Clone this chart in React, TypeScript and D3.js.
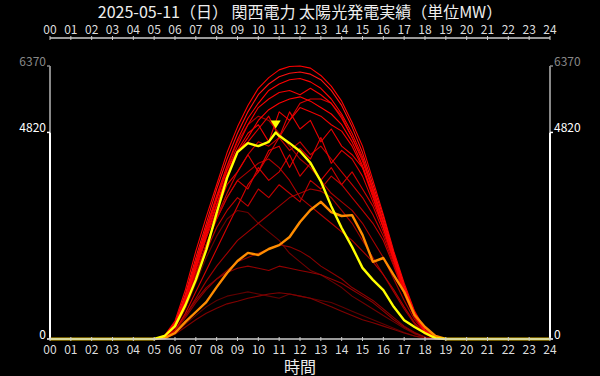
import React from "react";
import * as d3 from "d3";

const TITLE = "2025-05-11（日） 関西電力 太陽光発電実績（単位MW）";
const X_LABEL = "時間";
const HOUR_TICKS = ["00","01","02","03","04","05","06","07","08","09","10","11","12","13","14","15","16","17","18","19","20","21","22","23","24"];
const Y_TICKS = [0, 4820, 6370];
const Y_MAX = 6370;

// shared half-hour grid 05:00 .. 19:00
const gridHours = [5,5.5,6,6.5,7,7.5,8,8.5,9,9.5,10,10.5,11,11.5,12,12.5,13,13.5,14,14.5,15,15.5,16,16.5,17,17.5,18,18.5,19];

// past days (MW) on the grid
const past01 = [0,80,420,1150,2050,2850,3600,4350,4950,5450,5850,6100,6280,6360,6370,6320,6150,5900,5550,5050,4500,3700,2900,2050,1300,650,220,40,0];
const past02 = [0,70,380,1050,1900,2700,3500,4200,4800,5300,5700,5950,6120,6200,6230,6180,6050,5800,5450,4950,4350,3600,2850,2000,1250,620,200,30,0];
const past03 = [0,60,350,980,1800,2600,3350,4050,4650,5150,5500,5800,5950,6050,6080,6000,5850,5600,5250,4800,4250,3500,2750,1950,1200,600,190,30,0];
const past04 = [0,60,330,950,1750,2500,3250,3950,4500,5000,5400,5600,5750,5800,5700,5850,5700,5500,5150,4700,4150,3450,2700,1900,1150,560,180,25,0];
const past05 = [0,50,300,880,1650,2400,3100,3800,4350,4700,5100,5350,5500,5600,5650,5550,5400,5250,5000,4600,4050,3350,2600,1850,1100,540,170,25,0];
const past06 = [0,60,340,950,1750,2550,3300,3950,4400,4600,4900,5200,4700,5300,4900,5100,4600,4900,4500,4300,4000,3400,2700,1900,1150,560,180,25,0];
const past07 = [0,50,300,850,1600,2350,3000,3600,3900,4300,3900,4400,4500,4000,4450,4200,4700,4100,4400,4200,3800,3200,2600,1850,1100,540,170,25,0];
const past08 = [0,40,280,800,1500,2200,2800,3300,3700,3500,4000,3700,3900,4300,3800,4100,3700,4000,3600,3900,3500,3100,2500,1800,1100,520,160,20,0];
const past09 = [0,30,200,600,1100,1600,2100,2600,3100,3600,3900,4300,4700,5100,5500,5600,5600,5500,5200,4700,4200,3500,2750,1950,1200,580,180,25,0];
const past10 = [0,60,350,980,1800,2600,3300,4000,4600,5000,5200,5100,4800,4500,4200,4000,3700,3400,3200,3000,2700,2300,1900,1400,900,450,140,20,0];
const past11 = [0,40,250,700,1300,1900,2400,2800,3000,2950,2700,2500,2300,2000,1800,1600,1500,1350,1200,1000,850,700,550,400,250,120,40,5,0];
const past12 = [0,30,200,550,900,1200,1400,1550,1650,1700,1650,1600,1700,1650,1600,1550,1500,1400,1300,1150,1000,850,650,450,280,140,40,5,0];
const past13 = [0,20,120,350,550,750,900,1000,1050,1100,1050,1000,950,1050,1000,950,900,850,750,650,550,450,350,250,150,70,20,0,0];
const past14 = [0,30,200,550,950,1350,1700,2000,2300,2500,2700,2900,3100,3300,3400,3500,3450,3300,3000,2700,2300,1900,1500,1100,700,350,110,15,0];
const past15 = [0,30,180,500,850,1150,1400,1600,1800,1900,2000,2100,2200,2150,2050,1900,1700,1550,1400,1200,1050,900,700,500,300,150,45,5,0];
const past16 = [0,20,110,280,450,600,720,820,880,950,1000,1050,1080,1050,1000,950,850,750,650,550,450,380,300,220,140,70,20,0,0];
const past17 = [0,40,260,750,1400,2050,2600,3000,3300,3100,3500,3300,3600,3400,3200,3700,3500,3800,3600,3300,3000,2700,2300,1700,1050,500,160,20,0];
const past18 = [0,55,320,920,1700,2450,3150,3850,4400,4800,5000,4600,5300,5100,5400,5300,5200,5000,4850,4500,4000,3300,2600,1850,1100,540,170,25,0];
const past19 = [0,50,300,850,1550,2200,2800,3300,3700,3900,4100,4200,4000,3700,3300,3100,2900,2700,2500,2300,2050,1800,1500,1150,750,380,120,15,0];
const past20 = [0,45,280,800,1500,2200,2850,3400,3900,4300,4600,4500,4700,4400,4600,4300,4500,4200,3900,3600,3300,2900,2400,1750,1080,520,165,22,0];

const pastSeries = [past11, past13, past16, past12, past15, past14, past19, past17, past10, past08, past20, past07, past09, past06, past18, past05, past04, past03, past02, past01];
const pastColors = ["#700000","#600000","#800000","#900000","#8a0000","#a00000","#b00000","#c00000","#a80000","#d00000","#c80000","#e00000","#d80000","#e80000","#f00000","#ff0000","#f40000","#ff0000","#ff1010","#ff0000"];

// yesterday (orange) on the grid
const yesterday = [0,20,140,400,630,860,1210,1540,1820,2010,1960,2100,2190,2380,2730,3010,3200,2960,2870,2890,2430,1800,1890,1490,1100,560,280,70,0];

// today (yellow), with its own times
const todayHours = [5,5.5,6,6.5,7,7.5,8,8.5,9,9.5,10,10.5,10.8333,11,11.5,12,12.5,13,13.5,14,14.5,15,15.5,16,16.5,17,17.5,18,18.5,19];
const todayValues = [0,70,300,790,1380,2080,2940,3760,4360,4570,4500,4600,4820,4740,4570,4380,4110,3680,3100,2590,2150,1660,1380,1140,750,440,280,140,20,0];

const W = 600, H = 376;
const FONT = "'Noto Sans CJK JP', 'Noto Sans', sans-serif";

export default function App() {
  const x = d3.scaleLinear().domain([0, 24]).range([50, 550]);
  const y = d3.scaleLinear().domain([0, Y_MAX]).range([339, 66]);

  const line = d3.line<[number, number]>().x(d => x(d[0])).y(d => y(d[1]));
  const withEnds = (hrs: number[], vals: number[]) => {
    const pts: [number, number][] = [[0, 0]];
    hrs.forEach((h, i) => pts.push([h, vals[i]]));
    pts.push([24, 0]);
    return pts;
  };

  const todayMaxIdx = d3.maxIndex(todayValues);
  const mx = x(todayHours[todayMaxIdx]);
  const my = y(todayValues[todayMaxIdx]);

  const hours = d3.range(0, 25);

  return (
    <svg width={W} height={H} style={{ position: "absolute", left: 0, top: 0, display: "block" }} fontFamily={FONT}>
      <rect x={0} y={0} width={W} height={H} fill="#000" />
      <text x={300} y={18} textAnchor="middle" fill="#eee" fontSize={16}>{TITLE}</text>

      {/* top axis */}
      <line x1={x(0)} x2={x(24)} y1={38} y2={38} stroke="#ccc" strokeWidth={1.5} />
      {hours.map(h => (
        <g key={"t" + h}>
          <line x1={x(h)} x2={x(h)} y1={36} y2={40} stroke="#ccc" strokeWidth={1} />
          <text x={x(h)} y={34} textAnchor="middle" fill="#ddd" fontSize={12}>{HOUR_TICKS[h]}</text>
        </g>
      ))}

      {/* lines */}
      {pastSeries.map((s, i) => (
        <path key={"p" + i} d={line(withEnds(gridHours, s)) || ""} fill="none" stroke={pastColors[i]} strokeWidth={1.1} strokeLinejoin="round" />
      ))}
      <path d={line(withEnds(gridHours, yesterday)) || ""} fill="none" stroke="#ff8c00" strokeWidth={2.4} strokeLinejoin="round" />
      <path d={line(withEnds(todayHours, todayValues)) || ""} fill="none" stroke="#ffff00" strokeWidth={2.4} strokeLinejoin="round" />
      <path d={`M${mx - 5},${my - 12} L${mx + 5},${my - 12} L${mx},${my - 4} Z`} fill="#ffff00" />

      {/* left / right axes */}
      {[50, 550].map((ax, k) => (
        <g key={"ax" + k}>
          <line x1={ax} x2={ax} y1={y(Y_MAX)} y2={y(4820)} stroke="#888" strokeWidth={2} />
          <line x1={ax} x2={ax} y1={y(4820)} y2={y(0)} stroke="#fff" strokeWidth={2} />
          {Y_TICKS.map(v => (
            <g key={v}>
              <line x1={k === 0 ? ax - 3 : ax} x2={k === 0 ? ax : ax + 3} y1={y(v)} y2={y(v)} stroke={v === Y_MAX ? "#888" : "#fff"} strokeWidth={1.5} />
              <text x={k === 0 ? ax - 4 : ax + 4} y={y(v)} textAnchor={k === 0 ? "end" : "start"} fill={v === Y_MAX ? "#888" : "#fff"} fontSize={12}>{v}</text>
            </g>
          ))}
        </g>
      ))}

      {/* bottom axis */}
      <line x1={x(0)} x2={x(24)} y1={339} y2={339} stroke="#ccc" strokeWidth={1.5} />
      {hours.map(h => (
        <g key={"b" + h}>
          <line x1={x(h)} x2={x(h)} y1={337} y2={341} stroke="#ccc" strokeWidth={1} />
          <text x={x(h)} y={354} textAnchor="middle" fill="#ddd" fontSize={12}>{HOUR_TICKS[h]}</text>
        </g>
      ))}
      <text x={300} y={373} textAnchor="middle" fill="#eee" fontSize={16}>{X_LABEL}</text>
    </svg>
  );
}
